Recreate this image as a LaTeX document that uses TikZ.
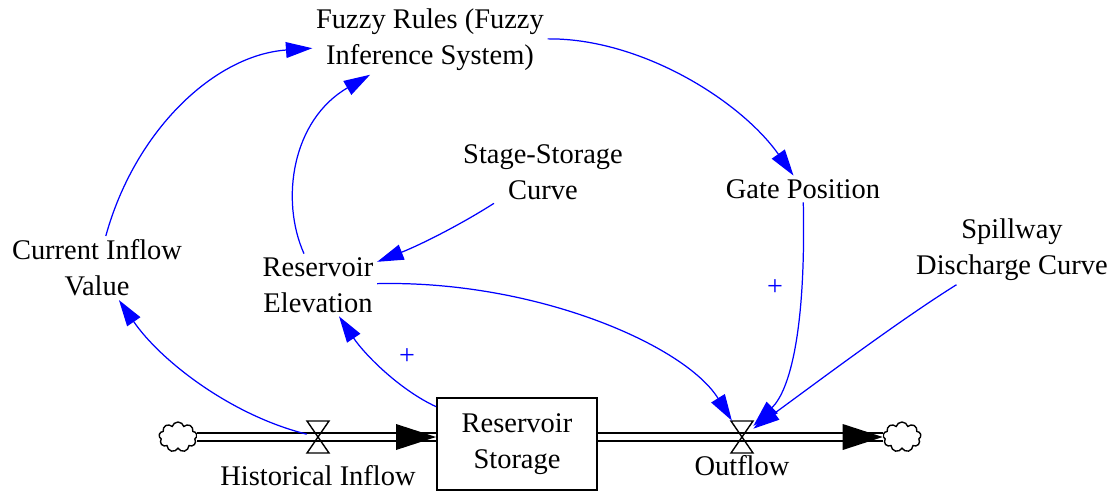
\documentclass[tikz,border=0pt]{standalone}
\usepackage{fontspec}
\setmainfont{Liberation Serif}
\usetikzlibrary{arrows.meta,shapes.symbols}
\begin{document}
\begin{tikzpicture}[x=0.02cm,y=-0.02cm,
 lbl/.style={align=center,font=\fontsize{16.2}{20.4}\selectfont,inner sep=2pt},
 conn/.style={draw=blue,line width=0.7pt,-{Triangle[length=15pt,width=9pt]}},
 pipe/.style={draw=black,line width=1.1pt,double=white,double distance=3.4pt},
 cloudnode/.style={cloud,cloud puffs=9,draw,line width=0.8pt,minimum width=0.76cm,minimum height=0.6cm,inner sep=0pt},
 valve/.style={minimum width=0.44cm,minimum height=0.64cm,inner sep=0pt},
 hourglass/.style={draw,line width=0.8pt},
 plus/.style={text=blue,font=\fontsize{16}{16}\selectfont,inner sep=0pt}]
\useasboundingbox (0,0) rectangle (1112,494);
% nodes
\node[lbl] (fz) at (430,40) {Fuzzy Rules (Fuzzy\\Inference System)};
\node[lbl] (ss) at (543,172) {Stage-Storage\\Curve};
\node[lbl] (gp) at (803,189) {Gate Position};
\node[lbl] (sp) at (1012,250) {Spillway\\Discharge Curve};
\node[lbl] (civ) at (97,268) {Current Inflow\\Value};
\node[lbl] (re) at (318,285) {Reservoir\\Elevation};
\node[lbl,draw,line width=1.1pt,minimum width=3.2cm,minimum height=1.84cm] (st) at (517,444) {Reservoir\\Storage};
\node[cloudnode] (c1) at (178,437) {};
\node[cloudnode] (c2) at (902,437) {};
\node[valve] (v1) at (318,437) {};
\node[valve] (v2) at (742,437) {};
\coordinate (in1) at (c1.east -| st.west);
\coordinate (out1) at (c2.west -| st.east);
\node[lbl] (hi) at (318,476) {Historical Inflow};
\node[lbl] (of) at (742,466) {Outflow};
% flows
\draw[pipe] (c1.east) -- (in1);
\fill (in1) -- ++(-40,-13) -- ++(0,26) -- cycle;
\draw[pipe] (out1) -- (c2.west);
\fill (c2.west) -- ++(-40,-13) -- ++(0,26) -- cycle;
\draw[hourglass,shift={(v1)}] (-11,-16) -- (11,-16) -- (-11,16) -- (11,16) -- cycle;
\draw[hourglass,shift={(v2)}] (-11,-16) -- (11,-16) -- (-11,16) -- (11,16) -- cycle;
% connectors
\draw[conn] (v1) .. controls (230,415) and (160,360) .. (civ);
\draw[conn] (civ) .. controls (135,130) and (215,55) .. (fz);
\draw[conn] (re) .. controls (280,200) and (292,120) .. (fz);
\draw[conn] (fz) .. controls (640,38) and (740,100) .. (gp);
\draw[conn] (ss) .. controls (460,225) and (420,245) .. (re);
\draw[conn] (re) .. controls (535,280) and (685,345) .. (v2);
\draw[conn] (gp) .. controls (806,330) and (790,390) .. (v2);
\draw[conn] (sp) .. controls (900,320) and (820,380) .. (v2);
\draw[conn] (st) .. controls (400,390) and (365,355) .. (re);
\node[plus] (p1) at (407,357) {+};
\node[plus] (p2) at (775,288) {+};
\end{tikzpicture}
\end{document}
